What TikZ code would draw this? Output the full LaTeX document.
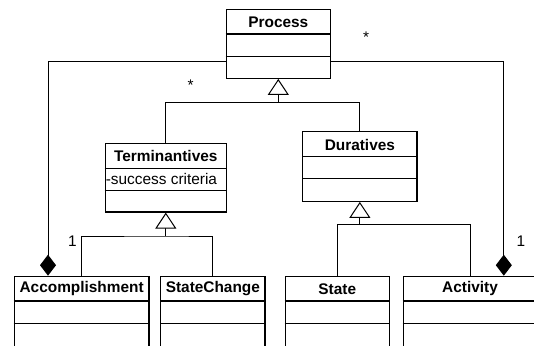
\documentclass[tikz,border=0pt]{standalone}
\usepackage{fontspec}
\setmainfont{Liberation Sans}
\usetikzlibrary{arrows.meta}
\tikzset{
  cls/.style={draw, line width=1.2pt, inner sep=0pt, fill=white},
  divl/.style={line width=1.2pt},
  ttl/.style={font=\fontsize{15.4}{18}\selectfont\bfseries, inner sep=0pt},
  attr/.style={font=\fontsize{15.4}{18}\selectfont, inner sep=0pt, anchor=west},
  conn/.style={line width=1pt},
  gen/.style={conn, -{Triangle[open, length=16pt, width=21pt, fill=white]}},
  agg/.style={conn, -{Diamond[length=21pt, width=16pt]}},
  mult/.style={font=\fontsize{15.4}{18}\selectfont, inner sep=0pt, anchor=base},
}
\begin{document}
\begin{tikzpicture}[x=1pt,y=-1pt]
\useasboundingbox (0,0) rectangle (534,345);
\clip (0,0) rectangle (534,345);

% classes
\node[cls, minimum width=104pt, minimum height=69pt] (proc) at (278.3,43.8) {};
\node[ttl] (procT) at (278.3,22.2) {Process};
\draw[divl] (proc.west |- 0,34) -- (proc.east |- 0,34);
\draw[divl] (proc.west |- 0,56.7) -- (proc.east |- 0,56.7);

\node[cls, minimum width=121pt, minimum height=68.7pt] (term) at (165.8,177.65) {};
\node[ttl] (termT) at (165.8,156.2) {Terminantives};
\draw[divl] (term.west |- 0,168.3) -- (term.east |- 0,168.3);
\draw[divl] (term.west |- 0,190.3) -- (term.east |- 0,190.3);
\node[attr] (termA) at (105.6,179.3) {-success criteria};

\node[cls, minimum width=114.3pt, minimum height=69.6pt] (dur) at (359.85,166.5) {};
\node[ttl] (durT) at (359.85,144.6) {Duratives};
\draw[divl] (dur.west |- 0,156.7) -- (dur.east |- 0,156.7);
\draw[divl] (dur.west |- 0,178.7) -- (dur.east |- 0,178.7);

\node[cls, minimum width=134.7pt, minimum height=93.7pt] (acc) at (81.65,323.15) {};
\node[ttl] (accT) at (81.65,289) {Accomplishment};
\node[cls, minimum width=104.3pt, minimum height=93.7pt] (sc) at (212.85,323.15) {};
\node[ttl] (scT) at (212.85,289) {StateChange};
\node[cls, minimum width=104pt, minimum height=93.7pt] (state) at (337.3,323.15) {};
\node[ttl] (stateT) at (337.3,289) {State};
\node[cls, minimum width=133.4pt, minimum height=93.7pt] (act) at (470,323.15) {};
\node[ttl] (actT) at (470,289) {Activity};
\foreach \n in {acc,sc,state,act}{
  \draw[divl] (\n.west |- 0,301) -- (\n.east |- 0,301);
  \draw[divl] (\n.west |- 0,323.7) -- (\n.east |- 0,323.7);
}

% generalizations
\coordinate (pj) at (278.3,102.3);
\draw[conn] (term.north) |- (pj) -| (dur.north);
\draw[gen] (pj) -- (proc.south);

\coordinate (tj) at (165.8,236);
\draw[conn] (acc.north) |- (tj) -| (sc.north);
\draw[gen] (tj) -- (term.south);

\coordinate (dj) at (359.85,224.3);
\draw[conn] (state.north) |- (dj) -| (act.north);
\draw[gen] (dj) -- (dur.south);

% aggregations
\coordinate (aggL) at (48,61.3);
\draw[agg] (proc.west |- aggL) -- (aggL) -- (aggL |- acc.north);
\coordinate (aggR) at (503.8,61.3);
\draw[agg] (proc.east |- aggR) -- (aggR) -- (aggR |- act.north);

% multiplicities
\node[mult] (m1) at (190.7,90.4) {*};
\node[mult] (m2) at (366,42) {*};
\node[mult] (m3) at (72.3,246.7) {1};
\node[mult] (m4) at (521,246.7) {1};
\end{tikzpicture}
\end{document}
